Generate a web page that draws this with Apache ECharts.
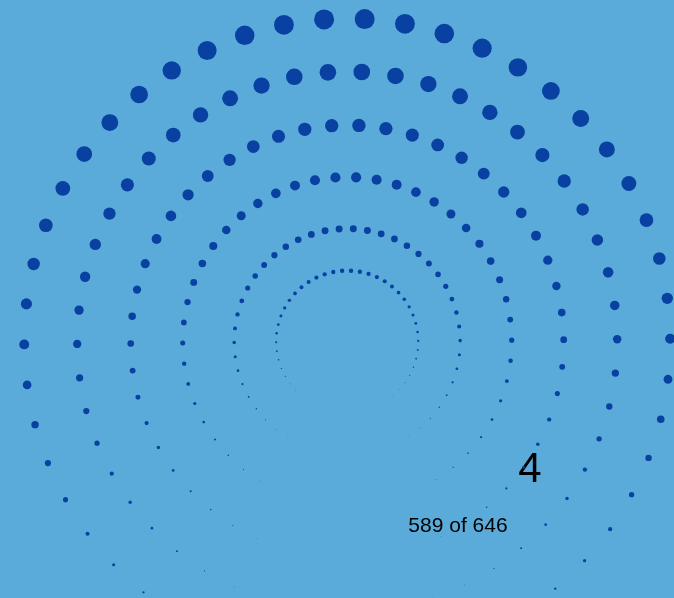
<!DOCTYPE html>
<html>
<head>
<meta charset="utf-8">
<script src="https://cdn.jsdelivr.net/npm/echarts@6/dist/echarts.min.js"></script>
<style>
html,body{margin:0;padding:0;background:#5aabd9;}
#chart{width:674px;height:598px;}
</style>
</head>
<body>
<div id="chart"></div>
<script>
// Ring radii (px-equivalent data units)
var ringRadii = [71, 113, 164.5, 216.5, 270, 323];
// Angular positions of the dots on each ring (degrees, counter-clockwise from 3 o'clock)
var dotAngles = [0.5, 7.7, 14.9, 22.1, 29.3, 36.5, 43.7, 50.9, 58.1, 65.3,
  72.5, 79.7, 86.9, 94.1, 101.3, 108.5, 115.7, 122.9, 130.1, 137.3,
  144.5, 151.7, 158.9, 166.1, 173.3, 180.5, 187.7, 194.9, 202.1, 209.3,
  216.5, 223.7, 230.9, 238.1, 245.3, 252.5, 259.7, 266.9, 274.1, 281.3,
  288.5, 295.7, 302.9, 310.1, 317.3, 324.5, 331.7, 338.9, 346.1, 353.3];
var bigLabel = '4';
var counterLabel = '589 of 646';

var points = [];
ringRadii.forEach(function (r) {
  dotAngles.forEach(function (a) { points.push([r, a]); });
});

var chart = echarts.init(document.getElementById('chart'));
chart.setOption({
  backgroundColor: '#5aabd9',
  animation: false,
  polar: { center: [347.2, 341.6], radius: 323 },
  angleAxis: { type: 'value', min: 0, max: 360, startAngle: 0, clockwise: false, show: false },
  radiusAxis: { type: 'value', min: 0, max: 323, show: false },
  series: [{
    type: 'scatter',
    coordinateSystem: 'polar',
    data: points,
    symbol: 'circle',
    symbolSize: function (v) {
      var s = Math.sin(v[1] * Math.PI / 180);
      return v[0] * 0.0619 * (1 + s) / 2;
    },
    itemStyle: { color: '#0841a1', opacity: 1 },
    silent: true
  }],
  graphic: [
    { type: 'text', x: 530, y: 470, style: { text: bigLabel, font: '42px "Liberation Sans", Arial, sans-serif', fill: '#000', textAlign: 'center', textVerticalAlign: 'middle' } },
    { type: 'text', x: 458, y: 526, style: { text: counterLabel, font: '21px "Liberation Sans", Arial, sans-serif', fill: '#000', textAlign: 'center', textVerticalAlign: 'middle' } }
  ]
});
</script>
</body>
</html>
